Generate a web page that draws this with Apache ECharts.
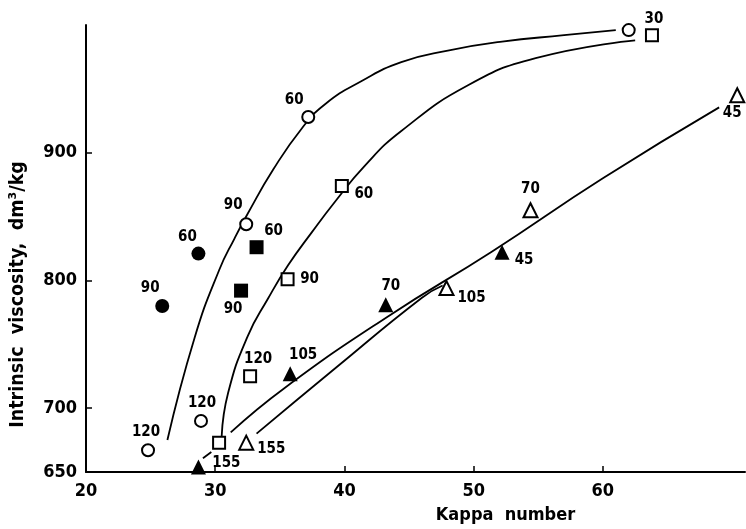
<!DOCTYPE html>
<html><head><meta charset="utf-8">
<script src="https://cdn.jsdelivr.net/npm/echarts@6/dist/echarts.min.js"></script>
<style>html,body{margin:0;padding:0;background:#fff}#c{width:746px;height:529px}</style>
</head><body><div id="c"></div>
<script>
// ---------- data ----------
var xTickLabels = [20, 30, 40, 50, 60];
var yTickLabels = [650, 700, 800, 900];

var openCircleX = [24.8, 28.9, 32.4, 37.2, 62.0];
var openCircleY = [667, 690, 844, 928, 996];
var openCircleLbl = ['120', '120', '90', '60', ''];

var filledCircleX = [28.7, 25.9];
var filledCircleY = [821, 780];
var filledCircleLbl = ['60', '90'];

var openSquareX = [30.3, 32.7, 35.6, 39.8, 63.8];
var openSquareY = [673, 725, 801, 874, 992];
var openSquareLbl = ['', '120', '90', '60', '30'];

var filledSquareX = [33.2, 32.0];
var filledSquareY = [826, 792];
var filledSquareLbl = ['60', '90'];

var openTriX = [32.4, 47.9, 54.4, 70.4];
var openTriY = [673, 794, 855, 945];
var openTriLbl = ['155', '105', '70', '45'];

var filledTriX = [28.7, 35.8, 43.2, 52.2];
var filledTriY = [654, 727, 781, 822];
var filledTriLbl = ['155', '105', '70', '45'];

// fitted curves
var curveCircleX = [26.3, 28.4, 30.3, 31.5, 32.5, 34.5, 36.7, 38.5, 41.3, 44.4, 48.0, 52.2, 57.0, 61.0];
var curveCircleY = [675, 755, 808, 833, 852, 887, 919, 938, 956, 971, 980, 987, 992, 996];
var curveSquareX = [30.5, 31.0, 32.5, 34.1, 35.65, 37.5, 39.3, 41.5, 44.4, 49.6, 54.8, 62.5];
var curveSquareY = [678, 712, 756, 786, 812, 838, 862, 889, 917, 953, 974, 988];
var lineFilledX = [31.2, 35.4, 43.4, 51.4, 60.0, 69.0];
var lineFilledY = [681, 716, 772, 822.5, 880, 935.5];
var lineOpenX = [33.2, 39.5, 46.0, 47.6];
var lineOpenY = [680, 733, 786.5, 796];
var dashX = [29.05, 29.7];
var dashY = [660.8, 665.6];

// ---------- label placement (styling) ----------
var openCircleOff = [[-2, -18], [1, -18], [-13, -19], [-14, -17], [0, 0]];
var filledCircleOff = [[-11, -16], [-12, -18]];
var openSquareOff = [[0, 0], [8, -17], [22, 0], [22, 8], [2, -16]];
var filledSquareOff = [[17, -16], [-8, 18]];
var openTriOff = [[25, 6], [25, 10], [0, -21], [-5, 18]];
var filledTriOff = [[28, -4], [13, -19], [5, -19], [22, 8]];

function zip(xs, ys) { return xs.map(function (x, i) { return [x, ys[i]]; }); }
function pts(xs, ys, lbls, offs) {
  return xs.map(function (x, i) {
    return { value: [x, ys[i]], name: lbls[i], label: { offset: offs[i] } };
  });
}
var FONT = "'Liberation Sans Narrow','DejaVu Sans Condensed',sans-serif";
var lblStyle = {
  show: true, position: 'inside', formatter: function (p) { return p.name; },
  color: '#000', fontFamily: FONT, fontSize: 15, fontWeight: 'bold'
};
function lineSeries(xs, ys) {
  return {
    type: 'line', data: zip(xs, ys), smooth: 0.5, symbol: 'none',
    lineStyle: { color: '#000', width: 1.8 }, z: 1, silent: true
  };
}
function scatter(xs, ys, lbls, offs, symbol, size, filled) {
  return {
    type: 'scatter', data: pts(xs, ys, lbls, offs), symbol: symbol, symbolSize: size, z: 3,
    itemStyle: { color: filled ? '#000' : '#fff', borderColor: '#000', borderWidth: filled ? 0 : 2, opacity: 1 },
    label: lblStyle
  };
}

var chart = echarts.init(document.getElementById('c'), null, { renderer: 'canvas' });
chart.setOption({
  backgroundColor: '#fff',
  animation: false,
  grid: { left: 85, right: 1, top: 25, bottom: 52 },
  xAxis: {
    type: 'value', min: 20, max: 71,
    name: 'Kappa  number', nameLocation: 'middle', nameGap: 34,
    nameTextStyle: { color: '#000', fontFamily: FONT, fontSize: 18, fontWeight: 'bold', padding: [0, 0, 0, 180] },
    axisLine: { show: true, lineStyle: { color: '#000', width: 2 } },
    axisTick: { show: true, inside: true, length: 6, customValues: [30, 40, 50, 60], lineStyle: { color: '#000', width: 1.5 } },
    axisLabel: { customValues: xTickLabels, color: '#000', fontFamily: FONT, fontSize: 18, fontWeight: 'bold', margin: 10 },
    splitLine: { show: false }
  },
  yAxis: {
    type: 'value', min: 650, max: 1000,
    name: 'Intrinsic  viscosity,  dm\u00b3/kg', nameLocation: 'middle', nameGap: 58,
    nameTextStyle: { color: '#000', fontFamily: FONT, fontSize: 19.5, fontWeight: 'bold', padding: [0, 92, 0, 0] },
    axisLine: { show: true, lineStyle: { color: '#000', width: 2 } },
    axisTick: { show: true, inside: true, length: 6, customValues: [700, 800, 900], lineStyle: { color: '#000', width: 1.5 } },
    axisLabel: { customValues: yTickLabels, color: '#000', fontFamily: FONT, fontSize: 18, fontWeight: 'bold', margin: 9 },
    splitLine: { show: false }
  },
  series: [
    lineSeries(curveCircleX, curveCircleY),
    lineSeries(curveSquareX, curveSquareY),
    lineSeries(lineFilledX, lineFilledY),
    lineSeries(lineOpenX, lineOpenY),
    lineSeries(dashX, dashY),
    scatter(openCircleX, openCircleY, openCircleLbl, openCircleOff, 'circle', 12, false),
    scatter(filledCircleX, filledCircleY, filledCircleLbl, filledCircleOff, 'circle', 14, true),
    scatter(openSquareX, openSquareY, openSquareLbl, openSquareOff, 'rect', 12, false),
    scatter(filledSquareX, filledSquareY, filledSquareLbl, filledSquareOff, 'rect', 14, true),
    scatter(openTriX, openTriY, openTriLbl, openTriOff, 'triangle', 14, false),
    scatter(filledTriX, filledTriY, filledTriLbl, filledTriOff, 'triangle', 15, true)
  ]
});
</script></body></html>
